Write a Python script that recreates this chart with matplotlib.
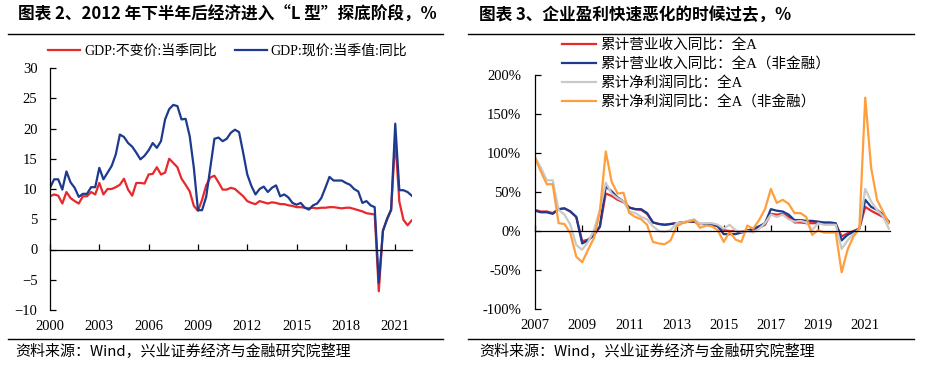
import numpy as np
import matplotlib
matplotlib.use("Agg")
import matplotlib.pyplot as plt
from matplotlib.lines import Line2D

# ---- left chart: GDP quarterly yoy, 2000Q1 - 2022Q1 ----
gdp_real = [8.8, 9.1, 8.9, 7.6, 9.5, 8.5, 8.0, 7.6, 8.8, 8.8, 9.5, 9.1,
            11.0, 9.1, 10.0, 10.0, 10.3, 10.7, 11.7, 9.9, 8.9, 11.0, 11.0, 10.9,
            12.4, 12.5, 13.6, 12.4, 12.7, 15.0, 14.3, 13.6, 11.7, 10.7, 9.6, 7.2,
            6.4, 8.2, 10.6, 11.9, 12.2, 11.1, 9.9, 9.9, 10.2, 10.0, 9.4, 8.8,
            8.0, 7.7, 7.5, 8.0, 7.8, 7.6, 7.8, 7.7, 7.5, 7.5, 7.3, 7.2,
            7.0, 7.0, 6.9, 6.8, 6.9, 6.8, 6.9, 6.9, 7.0, 7.0, 6.9, 6.8,
            6.9, 6.9, 6.7, 6.5, 6.3, 6.0, 5.9, 5.8, -6.9, 3.2, 4.9, 6.5,
            18.3, 7.9, 4.9, 4.0, 4.8]
gdp_nominal = [10.2, 11.6, 11.6, 9.9, 12.9, 11.1, 10.2, 8.7, 9.2, 9.2, 10.3, 10.3,
               13.5, 11.6, 12.7, 13.8, 15.7, 19.0, 18.6, 17.6, 17.0, 16.0, 14.9, 15.5,
               16.4, 17.6, 16.8, 17.9, 21.5, 23.2, 23.9, 23.7, 21.5, 21.6, 18.7, 13.5,
               6.5, 6.5, 8.7, 13.5, 18.3, 18.5, 17.9, 18.3, 19.3, 19.8, 19.4, 16.0,
               12.4, 10.5, 9.1, 10.0, 10.4, 9.5, 10.2, 10.6, 8.8, 9.1, 8.6, 7.7,
               7.4, 7.7, 6.9, 6.6, 7.3, 7.6, 8.5, 10.2, 12.0, 11.4, 11.4, 11.4,
               11.0, 10.7, 10.0, 9.6, 7.7, 8.0, 7.3, 7.0, -5.5, 3.0, 5.1, 6.6,
               20.8, 9.8, 9.8, 9.5, 8.9]
gdp_labels = ["GDP:不变价:当季同比", "GDP:现价:当季值:同比"]
gdp_xticks = [2000, 2003, 2006, 2009, 2012, 2015, 2018, 2021]
gdp_yticks = [-10, -5, 0, 5, 10, 15, 20, 25, 30]

# ---- right chart: cumulative yoy (%), 2007Q1 - 2022Q1 ----
rev_all = [27, 25, 25, 23, 28, 29, 25, 18, -13, -11, -5, 5, 48, 45, 40, 37,
           30, 28, 27, 22, 11, 9, 8, 9, 10, 11, 12, 12,
           9, 9, 8, 6, 1, 0, 0, -1, 1, 2, 4, 8, 22, 21, 22, 18,
           11, 11, 10, 10, 10, 10, 9, 9, -7, -3, 0, 3, 31, 26, 22, 18, 12]
rev_nonfin = [26, 24, 24, 22, 28, 29, 25, 18, -16, -12, -5, 6, 57, 51, 43, 38,
              30, 28, 28, 23, 11, 9, 8, 9, 10, 11, 12, 12,
              9, 9, 9, 6, -4, -4, -4, -2, 0, 3, 6, 10, 28, 26, 25, 21,
              14, 14, 13, 13, 12, 11, 11, 10, -12, -5, -1, 3, 40, 31, 27, 21, 12]
np_all = [95, 81, 65, 65, 27, 21, 8, -18, -24, -14, 1, 27, 62, 48, 42, 38,
          25, 23, 18, 15, 6, 0, -1, 1, 10, 11, 13, 15,
          9, 10, 10, 8, 3, 8, 1, -1, 0, -2, 3, 10, 21, 18, 21, 15,
          12, 13, 11, 1, 10, 8, 8, 8, -23, -12, -4, 3, 54, 38, 27, 19, 3]
np_nonfin = [94, 76, 60, 60, 10, 9, -3, -33, -40, -24, -9, 25, 102, 63, 48, 49,
             23, 18, 15, 8, -14, -16, -17, -12, 6, 10, 12, 14,
             4, 7, 6, 1, -14, -1, -11, -14, 7, 3, 14, 28, 54, 36, 40, 35,
             23, 23, 18, -5, 1, -2, -2, -2, -53, -24, -7, 3, 171, 81, 40, 25, 10]
profit_labels = ["累计营业收入同比：全A", "累计营业收入同比：全A（非金融）",
                 "累计净利润同比：全A", "累计净利润同比：全A（非金融）"]
profit_xticks = [2007, 2009, 2011, 2013, 2015, 2017, 2019, 2021]
profit_yticks = [-100, -50, 0, 50, 100, 150, 200]

RED = "#E8292C"
NAVY = "#1C3A8E"
GREY = "#C9C9C9"
ORANGE = "#FF9F3C"
SERIF = ["Liberation Serif", "Noto Sans CJK SC"]
CJK = ["Noto Sans CJK SC", "DejaVu Sans"]

W, H = 928, 367
fig = plt.figure(figsize=(W / 100, H / 100), dpi=100)


def px_axes(x0, y_top, x1, y_bot):
  return fig.add_axes([x0 / W, 1 - y_bot / H, (x1 - x0) / W, (y_bot - y_top) / H])


def style_axes(ax, xticks, yticks, ypad, xpad):
  for s in ["top", "right"]:
    ax.spines[s].set_visible(False)
  ax.spines["bottom"].set_position(("data", 0))
  ax.spines["bottom"].set_linewidth(0.9)
  ax.spines["left"].set_linewidth(0.9)
  ax.set_xticks(xticks)
  ax.set_yticks(yticks)
  ax.tick_params(axis="x", direction="in", length=4, width=0.9, labelbottom=False)
  ax.tick_params(axis="y", direction="in", length=4, width=0.9, pad=ypad)
  for t in ax.get_yticklabels():
    t.set_family(SERIF)
    t.set_fontsize(10.5)
  # year labels sit under the plot, not on the zero line
  sec = ax.secondary_xaxis("bottom")
  sec.spines["bottom"].set_visible(False)
  sec.set_xticks(xticks)
  sec.tick_params(length=0, pad=xpad)
  for t in sec.get_xticklabels():
    t.set_family(SERIF)
    t.set_fontsize(10.5)


# left chart
ax1 = px_axes(50, 68, 412.5, 310)
gdp_years = 2000 + np.arange(len(gdp_real)) / 4
ax1.plot(gdp_years, gdp_real, color=RED, lw=1.6, label=gdp_labels[0])
ax1.plot(gdp_years, gdp_nominal, color=NAVY, lw=1.6, label=gdp_labels[1])
ax1.set_xlim(2000, 2022.05)
ax1.set_ylim(-10, 30)
style_axes(ax1, gdp_xticks, gdp_yticks, ypad=9, xpad=7)
ax1.legend(loc="center", bbox_to_anchor=(0.49, 1.07), ncol=2, frameon=False,
           prop={"family": SERIF, "size": 10}, handlelength=2.3, handletextpad=0.25,
           columnspacing=1.3, borderpad=0, borderaxespad=0)

# right chart
ax2 = px_axes(535, 75, 890, 309)
profit_years = 2007 + np.arange(len(rev_all)) / 4
ax2.plot(profit_years, rev_all, color=RED, lw=1.6, label=profit_labels[0])
ax2.plot(profit_years, rev_nonfin, color=NAVY, lw=1.6, label=profit_labels[1])
ax2.plot(profit_years, np_all, color=GREY, lw=1.6, label=profit_labels[2])
ax2.plot(profit_years, np_nonfin, color=ORANGE, lw=1.6, label=profit_labels[3])
ax2.set_xlim(2007, 2022.05)
ax2.set_ylim(-100, 200)
style_axes(ax2, profit_xticks, profit_yticks, ypad=10, xpad=7)
ax2.set_yticklabels([f"{v}%" for v in profit_yticks], family=SERIF, fontsize=10.5)
ax2.legend(loc="center left", bbox_to_anchor=(27 / 355, 1.005), ncol=1, frameon=False,
           prop={"family": SERIF, "size": 10.5}, handlelength=2.3, handletextpad=0.3,
           labelspacing=0.36, borderpad=0, borderaxespad=0)

# titles, rules and sources
fig.text(18 / W, 1 - 15 / H, "图表 2、2012 年下半年后经济进入“L 型”探底阶段，%",
         family=CJK, weight="bold", fontsize=12, va="center")
fig.text(479 / W, 1 - 15 / H, "图表 3、企业盈利快速恶化的时候过去，%",
         family=CJK, weight="bold", fontsize=12, va="center")
for x0, x1 in [(8, 443), (468, 914)]:
  for y in [34, 339]:
    fig.add_artist(Line2D([x0 / W, x1 / W], [1 - y / H, 1 - y / H], color="black", lw=1))
for x0 in [15, 479]:
  fig.text(x0 / W, 1 - 352 / H, "资料来源：Wind，兴业证券经济与金融研究院整理",
           family=CJK, fontsize=10.8, va="center")

fig.savefig("out.png", dpi=100)
